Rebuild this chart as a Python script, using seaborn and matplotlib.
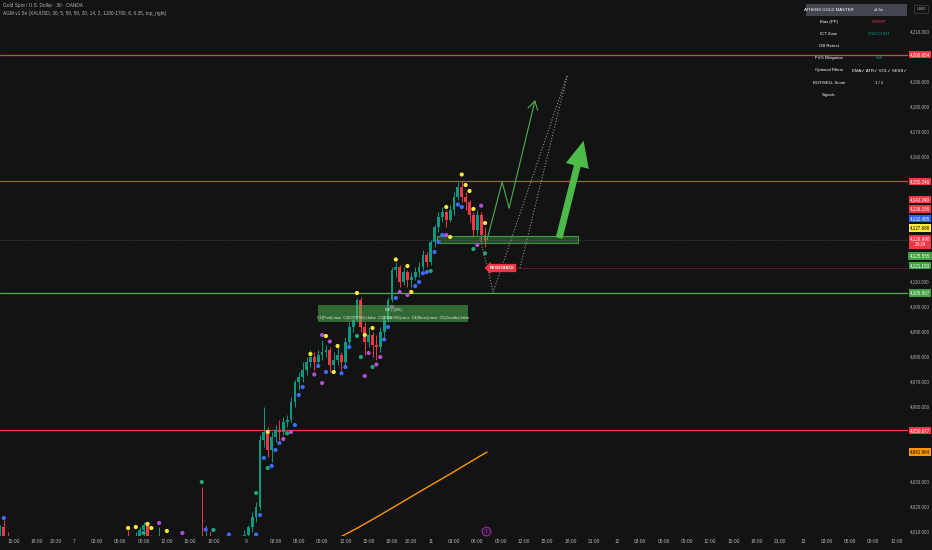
import numpy as np
import pandas as pd
import matplotlib
matplotlib.use("Agg")
import matplotlib.pyplot as plt
import seaborn as sns
from matplotlib import font_manager
from matplotlib.patches import Rectangle
from matplotlib.transforms import blended_transform_factory

# ---------------- data ----------------
# 30 min candles, x = bar number on the chart (bars 3-32 are below the view)
bar_idx = [0, 1, 2] + list(range(33, 126))
first_open = 4008
closes = [4012, 4007, 4005,
          4003, 4001, 4004, 4011, 4013, 4008, 4005, 4003, 4003.5, 4000,
          3998, 3996, 3999, 3997, 4000, 3998, 4001, 4004, 4002, 4001,
          4008, 4006, 4004, 4002, 4000, 4002, 4001, 4003, 4004, 4006,
          4009, 4012, 4016, 4020, 4047, 4050, 4043, 4048, 4051, 4050,
          4054, 4055, 4062, 4070, 4072, 4075, 4078, 4080, 4078, 4081,
          4082, 4083, 4077, 4079, 4081, 4078, 4086, 4092, 4095, 4103,
          4092, 4086, 4089, 4085, 4084, 4090, 4095, 4103, 4115, 4116,
          4110, 4114, 4111, 4112, 4114, 4116, 4121, 4118, 4126, 4132,
          4136, 4138, 4135, 4139, 4144, 4148, 4144, 4142, 4137, 4131,
          4137, 4129, 4126.99]
highs = [4013, 4015, 4010,
         4011, 4008, 4010, 4012, 4014, 4014, 4009, 4006, 4012, 4005,
         4002, 4000, 4003, 4001, 4004, 4002, 4005, 4007, 4006, 4028,
         4013, 4010, 4007, 4004, 4004, 4005, 4004, 4006, 4007, 4009,
         4011, 4013, 4018, 4022, 4049, 4060, 4052, 4050, 4053, 4055,
         4056, 4057, 4064, 4071, 4074, 4078, 4080, 4083, 4082, 4083,
         4087, 4085, 4084, 4082, 4084, 4082, 4088, 4094, 4097, 4103.5,
         4104, 4094, 4092, 4090, 4089, 4092, 4097, 4104, 4116, 4118,
         4117, 4116, 4115, 4114, 4116, 4118, 4123, 4122, 4127, 4133,
         4138, 4140, 4139, 4141, 4146, 4150, 4151, 4146, 4143, 4138,
         4139, 4138, 4132]
lows = [4004, 4004, 4002,
        3998, 3996, 3999, 4002, 4007, 4006, 4002, 4000, 3999, 3996,
        3994, 3992, 3994, 3993, 3995, 3995, 3996, 3999, 3999, 3999,
        4000, 4003, 4001, 3999, 3997, 3997, 3998, 3999, 4001, 4002,
        4003, 4007, 4010, 4014, 4019, 4044, 4040, 4038, 4046, 4047,
        4049, 4052, 4054, 4060, 4067, 4070, 4073, 4076, 4075, 4076,
        4079, 4080, 4074, 4075, 4077, 4075, 4077, 4085, 4090, 4094,
        4090, 4081, 4084, 4080, 4079, 4082, 4088, 4094, 4102, 4112,
        4108, 4109, 4108, 4108, 4111, 4112, 4115, 4116, 4117, 4124,
        4130, 4134, 4132, 4134, 4137, 4143, 4142, 4139, 4134, 4128,
        4129, 4127, 4124]

# indicator dots
yellow_bar = [33, 35, 38, 39, 43, 69, 80, 84, 86, 87, 92, 94, 96, 102, 105, 106,
              115, 116, 119, 120, 121, 122, 125]
yellow_price = [4011.6, 4012, 4013.2, 4011.6, 4010.4, 4050, 4081.2, 4088.4, 4074, 4084.4,
                4105.6, 4088.8, 4091.6, 4119, 4116.4, 4106, 4140, 4128, 4153, 4148.8,
                4146.4, 4139.2, 4133.6]
blue_bar = [1, 53, 59, 66, 67, 68, 70, 71, 72, 76, 77, 78, 82, 84, 88, 89, 90, 99, 100,
            102, 107, 108, 109, 110, 112, 113, 114, 118, 119]
blue_price = [4015.6, 4011, 4009, 4009, 4016.8, 4039.6, 4036.4, 4042.8, 4045.6, 4052.8,
              4064.8, 4068, 4076.4, 4074, 4073.5, 4076, 4084, 4087, 4092, 4103.6,
              4108.4, 4110, 4113.5, 4114, 4122, 4126, 4128.8, 4141, 4140]
purple_bar = [41, 47, 73, 75, 81, 83, 83, 85, 94, 95, 97, 98, 101, 103, 105, 115, 123, 124]
purple_price = [4013.6, 4009.6, 4047.2, 4050, 4073, 4088.8, 4069.6, 4086.2, 4072.4, 4081.6,
                4077, 4080, 4100, 4106, 4104.8, 4128.8, 4124.8, 4140.5]
green_dot_bar = [37, 52, 55, 66, 69, 74, 92, 93, 96, 111, 122, 125]
green_dot_price = [4009.6, 4030, 4010.8, 4025.6, 4035.6, 4049.5, 4088.4, 4080, 4076,
                   4114.4, 4123.2, 4121.5]

# slow EMA
ema_bar = [86, 92, 98, 104, 110, 116, 122, 125.5]
ema_price = [4006.6, 4011.5, 4016.8, 4022.3, 4027.8, 4033.2, 4038.8, 4042]

# levels
red_levels = [4200.954, 4150.246, 4050.677]
green_levels = [4105.567]
last_price = 4126.99
resistance_level = 4115.6

# drawings (bar, price)
zone_bars = [112.7, 149.0]
zone_prices = [4125.7, 4128.5]
green_path_bar = [125.5, 129.4, 131.2, 137.9]
green_path_price = [4126.8, 4150.0, 4139.6, 4182.8]
dot_a_bar = [123.7, 127.1, 146.2]
dot_a_price = [4127.6, 4106.0, 4192.8]
dot_b_bar = [134.0, 146.2]
dot_b_price = [4115.6, 4192.8]
arrow_bar = [144.1, 150.4]
arrow_price = [4127.6, 4166.5]
conf_bars = [82.0, 120.6]
conf_prices = [4094.0, 4100.8]
conf_title = "BE | (2/5)"
conf_text = "C1(Pivot)=true  C2(ICT/FVG)=false  C3(EMA-RSI)=true  C4(Struct)=true  C5(Candle)=false"

# right scale labels
label_prices = [4200.954, 4150.246, 4142.240, 4136.155, 4132.485, 4127.686, 4126.990,
                4125.555, 4121.150, 4105.567, 4050.677, 4041.964]
label_colors = ["#f23645", "#f23645", "#f23645", "#f23645", "#2962ff", "#ffeb3b", "#f23645",
                "#43a047", "#43a047", "#43a047", "#f23645", "#ff9800"]
label_fg = ["white", "white", "white", "white", "white", "black", "white",
            "white", "white", "white", "white", "black"]
countdown = "24:34"
price_ticks = list(range(4010, 4220, 10))

# time axis
tick_bars = [3.5, 9.5, 14.5, 19, 25, 31, 37, 43, 49, 55,
             63.5, 71, 77, 83, 89, 95, 101, 106,
             111, 117, 123, 129, 135, 141, 147, 153,
             159, 165, 171, 177, 183, 189, 195, 201,
             207, 213, 219, 225, 231]
tick_labels = ["15:00", "18:00", "20:30", "7", "03:00", "06:00", "09:00", "12:00", "15:00", "18:00",
               "9", "03:00", "06:00", "09:00", "12:00", "15:00", "18:00", "20:30",
               "11", "03:00", "06:00", "09:00", "12:00", "15:00", "18:00", "21:00",
               "12", "03:00", "06:00", "09:00", "12:00", "15:00", "18:00", "21:00",
               "13", "03:00", "06:00", "09:00", "12:00"]

# info table
table_left = ["ATHENS GOLD MASTER", "Bias (PP)", "ICT Zone", "OB Retest", "FVG Mitigation",
              "Optional Filters", "BUY/SELL Score", "Signals"]
table_right = ["v1.5e", "SHORT", "DISCOUNT", "", "Bull", "EMA\u2713 ATR\u2713 VOL\u2713 SESS\u2713", "1 / 1", ""]
table_colors = ["white", "#f23645", "#089981", "white", "#089981", "white", "white", "white"]

title1 = "Gold Spot / U.S. Dollar \u00b7 30 \u00b7 OANDA"
title2 = "AGM v1.5e (XAUUSD, 30, 5, 50, 50, 20, 14, 2, 1200-1700, 6, 0.35, top_right)"

# ---------------- style ----------------
BG = "#131313"
UP = "#089981"
DOWN = "#f23645"
LINE_GREEN = "#4caf50"
TXT = "#b2b5be"

sns.set_theme(style="dark", rc={"axes.facecolor": BG, "figure.facecolor": BG})
names = {f.name for f in font_manager.fontManager.ttflist}
if "Liberation Sans Narrow" in names:
    base_font, k = "Liberation Sans Narrow", 1.0
else:
    base_font, k = "Liberation Sans", 0.82
plt.rcParams["font.family"] = [base_font, "DejaVu Sans"]

W, H = 932, 550
fig = plt.figure(figsize=(W / 100, H / 100), dpi=100)
ax = fig.add_axes([0, 14 / H, 908 / W, 536 / H])
ax.set_xlim(0, 234)
ax.set_ylim(4008.4, 4222.8)
for s in ax.spines.values():
    s.set_visible(False)
ax.grid(False)

def fx(x):
    return x / W

def fy(y):
    return 1 - y / H

# levels
for lv in red_levels:
    ax.axhline(lv, color=DOWN, lw=0.9, zorder=1)
for lv in green_levels:
    ax.axhline(lv, color=LINE_GREEN, lw=0.9, zorder=1)
ax.axhline(last_price, color="#6a6d78", lw=0.5, ls=(0, (1, 2)), zorder=1)
ax.hlines(resistance_level, 126, 234, color=DOWN, lw=0.5, alpha=0.45, zorder=1)

# EMA
sns.lineplot(x=ema_bar, y=ema_price, ax=ax, color="#ff9800", lw=1.0, zorder=2)

# candles
df = pd.DataFrame({"bar": bar_idx, "close": closes, "high": highs, "low": lows})
df["open"] = df["close"].shift(1).fillna(first_open)
col = np.where(df["close"] >= df["open"], UP, DOWN)
ax.vlines(df["bar"], df["low"], df["high"], colors=col, lw=0.7, zorder=2)
body = (df["close"] - df["open"]).abs().clip(lower=0.5)
ax.bar(df["bar"], body, bottom=df[["open", "close"]].min(axis=1), width=0.72,
       color=col, linewidth=0, zorder=3)

# dots
dots = pd.concat([
    pd.DataFrame({"bar": yellow_bar, "price": yellow_price, "kind": "y"}),
    pd.DataFrame({"bar": blue_bar, "price": blue_price, "kind": "b"}),
    pd.DataFrame({"bar": purple_bar, "price": purple_price, "kind": "p"}),
    pd.DataFrame({"bar": green_dot_bar, "price": green_dot_price, "kind": "g"}),
])
sns.scatterplot(data=dots, x="bar", y="price", hue="kind",
                palette={"y": "#ffeb3b", "b": "#3d6bff", "p": "#b04fd8", "g": "#1fa67a"},
                s=9, linewidth=0, legend=False, ax=ax, zorder=4)

# zone
ax.add_patch(Rectangle((zone_bars[0], zone_prices[0]), zone_bars[1] - zone_bars[0],
                       zone_prices[1] - zone_prices[0], fc=LINE_GREEN, alpha=0.35,
                       ec="none", zorder=3))
ax.add_patch(Rectangle((zone_bars[0], zone_prices[0]), zone_bars[1] - zone_bars[0],
                       zone_prices[1] - zone_prices[0], fc="none", ec=LINE_GREEN,
                       lw=0.8, alpha=0.8, zorder=3))

# projection paths
ax.plot(green_path_bar[:3], green_path_price[:3], color=LINE_GREEN, lw=0.8, zorder=5)
ax.annotate("", xy=(green_path_bar[3], green_path_price[3]),
            xytext=(green_path_bar[2], green_path_price[2]),
            arrowprops=dict(arrowstyle="->,head_length=0.5,head_width=0.3", color=LINE_GREEN,
                            lw=0.8, shrinkA=0, shrinkB=0), zorder=5)
ax.plot(dot_a_bar, dot_a_price, color="#8f8f8f", lw=0.8, ls=(0, (1, 1.6)), zorder=5)
ax.plot(dot_b_bar, dot_b_price, color="#8f8f8f", lw=0.8, ls=(0, (1, 1.6)), zorder=5)
ax.annotate("", xy=(arrow_bar[1], arrow_price[1]), xytext=(arrow_bar[0], arrow_price[0]),
            arrowprops=dict(arrowstyle="simple,head_length=1.7,head_width=1.55,tail_width=0.45",
                            fc="#4cbb47", ec="none", mutation_scale=11, shrinkA=0, shrinkB=0),
            zorder=6)

# resistance tag
ax.text(129.3, resistance_level, "RESISTANCE", color="white", fontsize=3.4 * k,
        fontweight="bold", ha="center", va="center", zorder=7,
        bbox=dict(boxstyle="larrow,pad=0.55", fc="#f23645", ec="none"))

# confluence box
ax.add_patch(Rectangle((conf_bars[0], conf_prices[0]), conf_bars[1] - conf_bars[0],
                       conf_prices[1] - conf_prices[0], fc="#4caf50", alpha=0.55,
                       ec="none", zorder=6))
cx = (conf_bars[0] + conf_bars[1]) / 2
ax.text(cx, conf_prices[1] - 1.9, conf_title, color="#e8f5e9", fontsize=3.4 * k,
        ha="center", va="center", zorder=7)
ax.text(cx, conf_prices[0] + 1.5, conf_text, color="#e8f5e9", fontsize=3.3 * k,
        ha="center", va="center", zorder=7)

# event marker at bottom
ax.scatter([125.2], [4010.3], s=40, facecolor="#2b1631", edgecolor="#9c27b0", lw=0.8,
           zorder=6, clip_on=False)
ax.text(125.2, 4010.3, "!", color="#d58cf0", fontsize=3.5, ha="center", va="center", zorder=7)

# time axis
ax.set_xticks(tick_bars)
ax.set_xticklabels(tick_labels)
ax.set_yticks([])
ax.tick_params(axis="x", length=0, pad=2.4, labelsize=4.3 * k, labelcolor=TXT)
ax.set_xlabel("")
ax.set_ylabel("")

# right scale labels (stacked so they do not overlap)
order = np.argsort(label_prices)[::-1]
pos = [label_prices[i] for i in order]
half = [3.7 if label_prices[i] == last_price else 1.9 for i in order]
for _ in range(300):
    for i in range(len(pos) - 1):
        need = half[i] + half[i + 1]
        d = pos[i] - pos[i + 1]
        if d < need:
            m = (need - d) / 2
            pos[i] += m
            pos[i + 1] -= m
trans = blended_transform_factory(ax.transAxes, ax.transData)
xlab = 1 + 12 / 908
shown = []
for j, i in enumerate(order):
    p = label_prices[i]
    txt = f"{p:,.3f}"
    if p == last_price:
        txt = txt + "\n" + countdown
    ax.text(xlab, pos[j], txt, transform=trans, color=label_fg[i], fontsize=4.0 * k,
            ha="center", va="center", linespacing=1.2, clip_on=False, zorder=8,
            bbox=dict(boxstyle="square,pad=0.28", fc=label_colors[i], ec="none"))
    shown.append(pos[j])
for t in price_ticks:
    if min(abs(t - s) for s in shown) < 4.2:
        continue
    ax.text(xlab, t, f"{t:,.3f}", transform=trans, color=TXT, fontsize=4.0 * k,
            ha="center", va="center", clip_on=False)

# USD box
fig.text(fx(921), fy(9), "USD", color=TXT, fontsize=3.8 * k, ha="center", va="center",
         bbox=dict(boxstyle="square,pad=0.5", fc=BG, ec="#363a45", lw=0.6))

# info table
fig.add_artist(Rectangle((fx(806), fy(16)), 101 / W, 12 / H, transform=fig.transFigure,
                         fc="#434651", ec="none"))
for i in range(len(table_left)):
    y = 10 + 12.1 * i
    fig.text(fx(829), fy(y), table_left[i], color="white", fontsize=3.7 * k,
             ha="center", va="center")
    fig.text(fx(879), fy(y), table_right[i], color=table_colors[i], fontsize=3.7 * k,
             ha="center", va="center")

# legend lines top-left
fig.text(fx(3), fy(5), title1, color=TXT, fontsize=4.2 * k, ha="left", va="center")
fig.text(fx(3), fy(14), title2, color=TXT, fontsize=4.2 * k, ha="left", va="center")

fig.savefig("out.png", dpi=100, facecolor=BG)
